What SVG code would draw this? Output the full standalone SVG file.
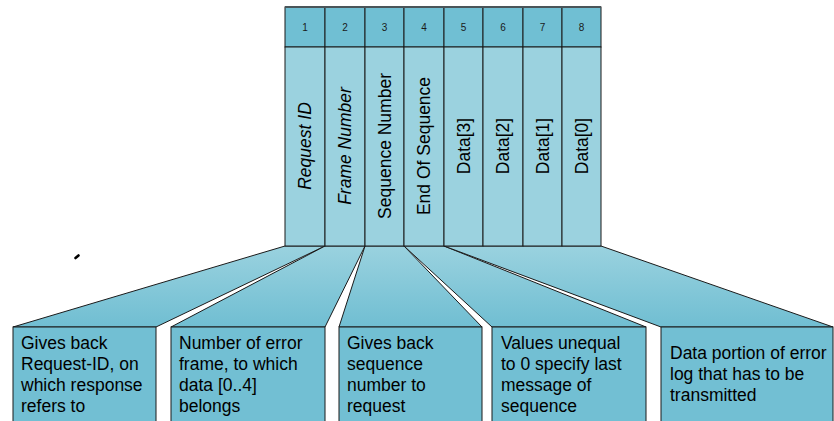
<svg xmlns="http://www.w3.org/2000/svg" width="834" height="421" viewBox="0 0 834 421">
  <defs>
    <linearGradient id="fan" x1="0" y1="0" x2="0" y2="1">
      <stop offset="0" stop-color="#9ad2df"/>
      <stop offset="1" stop-color="#70bed2"/>
    </linearGradient>
    <style>
      .hdr { fill: #70bfd3; stroke: #1a1a1a; stroke-width: 1; }
      .col { fill: #9bd2df; stroke: #1a1a1a; stroke-width: 1; }
      .box { fill: #72bfd3; stroke: #1a1a1a; stroke-width: 1; }
      .fan { fill: url(#fan); stroke: #1a1a1a; stroke-width: 1; stroke-linejoin: miter; }
      .num { font-family: "Liberation Sans", Arial, sans-serif; font-size: 10px; fill: #1a1a1a; text-anchor: middle; }
      .vt { font-family: "Liberation Sans", Arial, sans-serif; font-size: 17.5px; fill: #000; text-anchor: middle; }
      .it { font-style: italic; }
      .bt { font-family: "Liberation Sans", Arial, sans-serif; font-size: 17.5px; fill: #000; }
    </style>
  </defs>

  <rect width="834" height="421" fill="#ffffff"/>

  <!-- fan-out shapes linking fields to their descriptions -->
  <g id="connectors">
    <polygon class="fan" points="285,246 325,246 156,327 13,327"/>
    <polygon class="fan" points="325,246 365,246 325,327 171,327"/>
    <polygon class="fan" points="365,246 404,246 482,327 339,327"/>
    <polygon class="fan" points="404,246 444,246 646,327 492,327"/>
    <polygon class="fan" points="444,246 601,246 833,327 661,327"/>
  </g>

  <!-- frame fields: byte number header + field body -->
  <g id="field1">
    <rect class="hdr" x="285" y="7" width="40" height="40"/>
    <text class="num" x="305" y="31">1</text>
    <rect class="col" x="285" y="47" width="40" height="199"/>
    <text class="vt it" transform="translate(311,146) rotate(-90)">Request ID</text>
  </g>
  <g id="field2">
    <rect class="hdr" x="325" y="7" width="40" height="40"/>
    <text class="num" x="345" y="31">2</text>
    <rect class="col" x="325" y="47" width="40" height="199"/>
    <text class="vt it" transform="translate(351,146) rotate(-90)">Frame Number</text>
  </g>
  <g id="field3">
    <rect class="hdr" x="365" y="7" width="39" height="40"/>
    <text class="num" x="384.5" y="31">3</text>
    <rect class="col" x="365" y="47" width="39" height="199"/>
    <text class="vt" transform="translate(390.5,146) rotate(-90)">Sequence Number</text>
  </g>
  <g id="field4">
    <rect class="hdr" x="404" y="7" width="40" height="40"/>
    <text class="num" x="424" y="31">4</text>
    <rect class="col" x="404" y="47" width="40" height="199"/>
    <text class="vt" transform="translate(430,146) rotate(-90)">End Of Sequence</text>
  </g>
  <g id="field5">
    <rect class="hdr" x="444" y="7" width="39" height="40"/>
    <text class="num" x="463.5" y="31">5</text>
    <rect class="col" x="444" y="47" width="39" height="199"/>
    <text class="vt" transform="translate(469.5,146) rotate(-90)">Data[3]</text>
  </g>
  <g id="field6">
    <rect class="hdr" x="483" y="7" width="40" height="40"/>
    <text class="num" x="503" y="31">6</text>
    <rect class="col" x="483" y="47" width="40" height="199"/>
    <text class="vt" transform="translate(509,146) rotate(-90)">Data[2]</text>
  </g>
  <g id="field7">
    <rect class="hdr" x="523" y="7" width="39" height="40"/>
    <text class="num" x="542.5" y="31">7</text>
    <rect class="col" x="523" y="47" width="39" height="199"/>
    <text class="vt" transform="translate(548.5,146) rotate(-90)">Data[1]</text>
  </g>
  <g id="field8">
    <rect class="hdr" x="562" y="7" width="39" height="40"/>
    <text class="num" x="581.5" y="31">8</text>
    <rect class="col" x="562" y="47" width="39" height="199"/>
    <text class="vt" transform="translate(587.5,146) rotate(-90)">Data[0]</text>
  </g>

  <!-- heavier top rule across the header row -->
  <line x1="285" y1="7" x2="601" y2="7" stroke="#4a5559" stroke-width="2"/>

  <!-- description boxes -->
  <g id="desc1">
    <rect class="box" x="13" y="327" width="143" height="110"/>
    <text class="bt" x="21" y="349">Gives back</text>
    <text class="bt" x="21" y="370">Request-ID, on</text>
    <text class="bt" x="21" y="391">which response</text>
    <text class="bt" x="21" y="412">refers to</text>
  </g>
  <g id="desc2">
    <rect class="box" x="171" y="327" width="154" height="110"/>
    <text class="bt" x="179" y="349">Number of error</text>
    <text class="bt" x="179" y="370">frame, to which</text>
    <text class="bt" x="179" y="391">data [0..4]</text>
    <text class="bt" x="179" y="412">belongs</text>
  </g>
  <g id="desc3">
    <rect class="box" x="339" y="327" width="143" height="110"/>
    <text class="bt" x="347" y="349">Gives back</text>
    <text class="bt" x="347" y="370">sequence</text>
    <text class="bt" x="347" y="391">number to</text>
    <text class="bt" x="347" y="412">request</text>
  </g>
  <g id="desc4">
    <rect class="box" x="492" y="327" width="154" height="110"/>
    <text class="bt" x="501" y="349">Values unequal</text>
    <text class="bt" x="501" y="370">to 0 specify last</text>
    <text class="bt" x="501" y="391">message of</text>
    <text class="bt" x="501" y="412">sequence</text>
  </g>
  <g id="desc5">
    <rect class="box" x="661" y="327" width="172" height="110"/>
    <text class="bt" x="670" y="359">Data portion of error</text>
    <text class="bt" x="670" y="380">log that has to be</text>
    <text class="bt" x="670" y="401">transmitted</text>
  </g>

  <!-- small stray tick -->
  <line x1="75.5" y1="258" x2="78.5" y2="255.5" stroke="#000" stroke-width="2.6" stroke-linecap="round"/>
</svg>
